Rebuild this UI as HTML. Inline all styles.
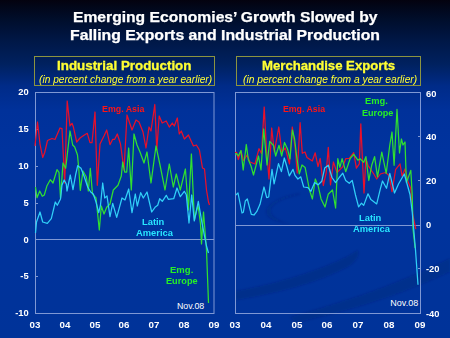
<!DOCTYPE html>
<html><head><meta charset="utf-8">
<style>
html,body{margin:0;padding:0;}
body{width:450px;height:338px;overflow:hidden;position:relative;font-family:"Liberation Sans",sans-serif;
background:linear-gradient(to bottom,#04020f 0px,#020618 6px,#000e2c 20px,#001848 42px,#00215f 64px,#002b88 86px,#00319a 110px,#00339e 150px,#003399 338px);}
.t{position:absolute;white-space:nowrap;line-height:1;transform-origin:0 0;}
svg{position:absolute;left:0;top:0;}
</style></head><body>
<svg width="450" height="338" viewBox="0 0 450 338">
<defs><filter id="bl" x="-20%" y="-20%" width="140%" height="140%"><feGaussianBlur stdDeviation="1.2"/></filter></defs><g filter="url(#bl)"><path d="M 236 291 C 280 283 320 270 348 256 C 353 253 356 251 358 250 C 360 256 356 262 346 268 C 318 282 280 293 236 300 Z" fill="#001a60" fill-opacity="0.25"/>
<path d="M 290 317 C 335 304 390 288 450 258 L 450 272 C 390 300 335 314 296 323 Z" fill="#001a60" fill-opacity="0.22"/>
<path d="M 300 193 C 280 196 266 204 266 212 C 266 218 274 222 290 224 C 278 220 271 216 271 211 C 271 204 284 198 300 195 Z" fill="#001a60" fill-opacity="0.18"/></g>
<rect x="34.5" y="56.5" width="180" height="29" fill="none" stroke="#8c9440" stroke-width="1"/>
<rect x="236.5" y="56.5" width="184" height="29" fill="none" stroke="#8c9440" stroke-width="1"/>
<rect x="35.5" y="92.5" width="178.5" height="221" fill="none" stroke="#7f98d4" stroke-width="1"/>
<rect x="235.5" y="92.5" width="185" height="221" fill="none" stroke="#7f98d4" stroke-width="1"/>
<line x1="35.5" y1="239.5" x2="214" y2="239.5" stroke="#7f98d4" stroke-width="1"/>
<line x1="235.5" y1="225.5" x2="420.5" y2="225.5" stroke="#7f98d4" stroke-width="1"/>
<line x1="35.5" y1="129.5" x2="38" y2="129.5" stroke="#7f98d4" stroke-width="1"/><line x1="35.5" y1="166.5" x2="38" y2="166.5" stroke="#7f98d4" stroke-width="1"/><line x1="35.5" y1="203.5" x2="38" y2="203.5" stroke="#7f98d4" stroke-width="1"/><line x1="35.5" y1="276.5" x2="38" y2="276.5" stroke="#7f98d4" stroke-width="1"/><line x1="418" y1="136.5" x2="420.5" y2="136.5" stroke="#7f98d4" stroke-width="1"/><line x1="418" y1="180.5" x2="420.5" y2="180.5" stroke="#7f98d4" stroke-width="1"/><line x1="418" y1="268.5" x2="420.5" y2="268.5" stroke="#7f98d4" stroke-width="1"/>
<g fill="none" stroke-width="1.25" stroke-linejoin="round">
<polyline points="35,146 37.5,122 40,144 42.7,157.5 44.7,152.5 47.5,140.5 52,138.5 55,139.5 60,128 62,128.7 64.7,183 67.2,101 70,126 72,123.3 73.3,126.7 76.7,142 80,138 84,135.3 87.3,133.3 90,142.7 92,142.7 95,112 97.3,185.3 100,144 104,136 106.7,130 110,144.7 112.7,139.3 114.7,139.3 117.3,134 120.5,144 124,170 127,115 132,130 136,120 139,122 143,132 146,148 149,127 151,131 154.8,104.5 156.8,150 159.2,116 162.2,123 166.2,121 169.3,127 172.3,123 174.3,126 177.3,118 179.3,134 181.3,131 184.4,139 188.4,135 193.4,146 196.4,145 199.4,150 202.5,168 204.5,169 206.5,190 208.5,202 209.5,205" stroke="#e8102a"/>
<polyline points="35.5,187 37,197.7 39.7,191 42.3,196.3 44.3,195 47,185.7 50.3,179.7 53,183 57,169.7 59,172.3 60.5,198 63,163 65.7,168.3 70,131 72.7,145 74.7,147 77.5,155 78.7,168 80.3,190.3 83,171 86.3,177 88.3,191 90.3,168.3 92.5,194 96,198 99.3,230 101.3,206 104,214 106.7,207.3 110,204 113.3,190 118,185.3 121.3,176 122.7,162 124.7,172 126.7,172 128.7,148 131.3,190 134,134 137,145 140,152 144,163 147,152 151,183 156,146 160,165 165,190 169.3,164 173.3,187 176.3,174 180.3,190 185.4,169 188.4,210 191.4,154 194.4,220 198,205 200.5,224 201.5,244 203.5,212 206.5,250 208.5,303" stroke="#30e030"/>
<polyline points="35.5,233 36.5,222 40,212 42.7,222 47.3,223.3 51.3,218.7 55.3,202 57.3,205.3 60.5,199 62,185 64.2,180 66.3,184 67,191 70.3,175 73,189.7 75.7,174.3 77.7,165.7 81,168.3 84,176 87.7,187 90.7,192 93.3,194 96,202 98.7,212.7 100.5,205 102.7,183 104.7,198 107,196 110,216.7 112.7,203.3 116.7,217.3 122,198 125,200 128.7,189 132,212.7 135.3,194 137.3,206 140.7,192.7 143.3,198 147,192 151.7,212 155,207.3 157.7,205.3 159.7,198.7 162.3,201.3 166.3,195.3 168.3,199.3 173.7,198.7 177,188 180.3,196.7 184.3,191.3 186.3,194.7 189,223 191.7,195 194.3,221 198.3,201.3 201.5,220 204.5,236 206.5,246 208.5,253" stroke="#30d0f8"/>
<polyline points="235,152.5 236.6,152.3 238.3,159.5 241,151 243.5,160.5 247,155 250,162 255,164 259,148.7 261.5,153.5 264.2,107 266.5,150 269,179 271.7,128 274.3,152 278.8,127 281.7,152 285.3,148 289.5,164 292.3,127 295.4,150 297.2,173 300.1,122.7 302.3,153.3 305,152 307,157.5 312.3,161 315.2,152.8 318,166.5 320.2,158.5 323.3,185.5 326.2,172.5 328.3,147.3 330.5,184.8 333.4,162 337,172.5 342.8,166.7 345.7,158.7 349.3,158.5 353.7,152.7 356.4,168.2 359.3,163.8 360.8,123.9 364,193 365.9,158.8 368,165.3 373.8,174 376.7,179 380.4,174 385.4,172.5 389.1,175.4 392,191.6 395.6,169.6 400,163.8 402.1,176.2 405,168.9 407.9,181.2 410.8,188.5 412.8,215 415.8,229.2" stroke="#e8102a"/>
<polyline points="235,154 236.6,153.7 238.3,156 241,150.5 243.2,170 246.3,144.5 248.3,159.5 251,166 253.5,175 258.5,156 261,170 263.7,129 267,165 269.7,141.3 273.5,145.5 275.7,156 279,145.3 281.7,156 284.5,142.5 287.6,149.3 290,159 292.4,130 294.6,139 296.4,154.3 299.3,173.9 302,165 305.1,167.4 309.5,190 312.4,199 315.3,179 318.2,186.2 321.1,199 325,207 328.2,194.3 332.5,190 335.6,208 337.8,158.7 339.9,167.4 342.1,158.7 345.7,171.7 350.1,158.7 353.7,154.3 357.9,160.2 360.1,158.8 363.7,162.4 365.9,156.6 368.8,180.5 371.7,165.3 374.6,156.6 377.5,176.9 381.8,152.2 386.2,173.3 389.8,145 392,132 394.1,165.3 397,109.4 399.5,153 401.4,139 403,145 405,142 406.4,182.7 410.8,170.4 412.2,194 413,229 415.1,248" stroke="#30e030"/>
<polyline points="235.8,195 238,193 242,213 243.3,212.3 245.3,201 247.3,199 251.3,214.3 254,215 256.7,211.7 260,204.3 264,187 266.7,197.7 268.7,197 272,169.4 274.1,183.9 278.5,163.6 281.4,171.6 284.3,158 287,167 289.3,175.9 293,169.4 295,175.4 297.9,179 300.8,176.8 303.7,187 308,187.7 310.9,191.3 314.6,182.6 318.2,184.8 321.8,181.2 324.7,168.1 328.3,165.2 332,177.5 335.6,182.6 339.2,177.5 342.8,173.2 345.7,180.4 349.3,183.3 352.2,180.4 355.5,195 358.6,206.8 361.5,203.2 363.7,205.4 368,193.8 370.9,199.6 376.7,203.9 380.4,188.7 382.5,181 386.5,188.3 389.8,173.3 394.5,193 398.5,184 404.3,174 410,194.5 412.2,211.9 413.7,229 415.5,250 418,284.8" stroke="#30d0f8"/>
</g>
</svg>
<div class="t" style="left:73px;top:9.8px;font-size:14px;color:#fff;font-weight:bold;font-style:normal;transform:scaleX(1.118);-webkit-text-stroke:0.25px #fff;">Emerging Economies’ Growth Slowed by</div>
<div class="t" style="left:70px;top:27.6px;font-size:14px;color:#fff;font-weight:bold;font-style:normal;transform:scaleX(1.129);-webkit-text-stroke:0.25px #fff;">Falling Exports and Industrial Production</div>
<div class="t" style="left:57px;top:59.6px;font-size:12.2px;color:#ffff33;font-weight:bold;font-style:normal;transform:scaleX(1.097);-webkit-text-stroke:0.3px #ffff33;">Industrial Production</div>
<div class="t" style="left:38.5px;top:75px;font-size:10px;color:#ffff33;font-weight:normal;font-style:italic;transform:scaleX(1.018);">(in percent change from a year earlier)</div>
<div class="t" style="left:262px;top:59.6px;font-size:12.2px;color:#ffff33;font-weight:bold;font-style:normal;transform:scaleX(1.08);-webkit-text-stroke:0.3px #ffff33;">Merchandise Exports</div>
<div class="t" style="left:243px;top:75px;font-size:10px;color:#ffff33;font-weight:normal;font-style:italic;transform:scaleX(1.024);">(in percent change from a year earlier)</div>
<div class="t" style="left:0px;top:88.3px;font-size:8.5px;color:#fff;font-weight:bold;font-style:normal;transform:scaleX(1.1);text-align:right;width:28.7px;transform-origin:28.7px 0;">20</div>
<div class="t" style="left:0px;top:124.75px;font-size:8.5px;color:#fff;font-weight:bold;font-style:normal;transform:scaleX(1.1);text-align:right;width:28.7px;transform-origin:28.7px 0;">15</div>
<div class="t" style="left:0px;top:161.9px;font-size:8.5px;color:#fff;font-weight:bold;font-style:normal;transform:scaleX(1.1);text-align:right;width:28.7px;transform-origin:28.7px 0;">10</div>
<div class="t" style="left:0px;top:198.7px;font-size:8.5px;color:#fff;font-weight:bold;font-style:normal;transform:scaleX(1.1);text-align:right;width:28.7px;transform-origin:28.7px 0;">5</div>
<div class="t" style="left:0px;top:235.5px;font-size:8.5px;color:#fff;font-weight:bold;font-style:normal;transform:scaleX(1.1);text-align:right;width:28.7px;transform-origin:28.7px 0;">0</div>
<div class="t" style="left:0px;top:272.3px;font-size:8.5px;color:#fff;font-weight:bold;font-style:normal;transform:scaleX(1.1);text-align:right;width:28.7px;transform-origin:28.7px 0;">-5</div>
<div class="t" style="left:0px;top:309.1px;font-size:8.5px;color:#fff;font-weight:bold;font-style:normal;transform:scaleX(1.1);text-align:right;width:28.7px;transform-origin:28.7px 0;">-10</div>
<div class="t" style="left:426.1px;top:89.5px;font-size:8.5px;color:#fff;font-weight:bold;font-style:normal;transform:scaleX(1.1);">60</div>
<div class="t" style="left:426.1px;top:133.3px;font-size:8.5px;color:#fff;font-weight:bold;font-style:normal;transform:scaleX(1.1);">40</div>
<div class="t" style="left:426.1px;top:177.1px;font-size:8.5px;color:#fff;font-weight:bold;font-style:normal;transform:scaleX(1.1);">20</div>
<div class="t" style="left:426.1px;top:221.0px;font-size:8.5px;color:#fff;font-weight:bold;font-style:normal;transform:scaleX(1.1);">0</div>
<div class="t" style="left:426.1px;top:264.8px;font-size:8.5px;color:#fff;font-weight:bold;font-style:normal;transform:scaleX(1.1);">-20</div>
<div class="t" style="left:426.1px;top:309.5px;font-size:8.5px;color:#fff;font-weight:bold;font-style:normal;transform:scaleX(1.1);">-40</div>
<div class="t" style="left:20.0px;top:321.2px;font-size:8.5px;color:#fff;font-weight:bold;font-style:normal;transform:scaleX(1.15);text-align:center;width:30px;transform-origin:15px 0;">03</div>
<div class="t" style="left:49.8px;top:321.2px;font-size:8.5px;color:#fff;font-weight:bold;font-style:normal;transform:scaleX(1.15);text-align:center;width:30px;transform-origin:15px 0;">04</div>
<div class="t" style="left:79.5px;top:321.2px;font-size:8.5px;color:#fff;font-weight:bold;font-style:normal;transform:scaleX(1.15);text-align:center;width:30px;transform-origin:15px 0;">05</div>
<div class="t" style="left:109.3px;top:321.2px;font-size:8.5px;color:#fff;font-weight:bold;font-style:normal;transform:scaleX(1.15);text-align:center;width:30px;transform-origin:15px 0;">06</div>
<div class="t" style="left:139.1px;top:321.2px;font-size:8.5px;color:#fff;font-weight:bold;font-style:normal;transform:scaleX(1.15);text-align:center;width:30px;transform-origin:15px 0;">07</div>
<div class="t" style="left:168.8px;top:321.2px;font-size:8.5px;color:#fff;font-weight:bold;font-style:normal;transform:scaleX(1.15);text-align:center;width:30px;transform-origin:15px 0;">08</div>
<div class="t" style="left:198.6px;top:321.2px;font-size:8.5px;color:#fff;font-weight:bold;font-style:normal;transform:scaleX(1.15);text-align:center;width:30px;transform-origin:15px 0;">09</div>
<div class="t" style="left:220.1px;top:321.2px;font-size:8.5px;color:#fff;font-weight:bold;font-style:normal;transform:scaleX(1.15);text-align:center;width:30px;transform-origin:15px 0;">03</div>
<div class="t" style="left:250.9px;top:321.2px;font-size:8.5px;color:#fff;font-weight:bold;font-style:normal;transform:scaleX(1.15);text-align:center;width:30px;transform-origin:15px 0;">04</div>
<div class="t" style="left:281.6px;top:321.2px;font-size:8.5px;color:#fff;font-weight:bold;font-style:normal;transform:scaleX(1.15);text-align:center;width:30px;transform-origin:15px 0;">05</div>
<div class="t" style="left:312.4px;top:321.2px;font-size:8.5px;color:#fff;font-weight:bold;font-style:normal;transform:scaleX(1.15);text-align:center;width:30px;transform-origin:15px 0;">06</div>
<div class="t" style="left:343.2px;top:321.2px;font-size:8.5px;color:#fff;font-weight:bold;font-style:normal;transform:scaleX(1.15);text-align:center;width:30px;transform-origin:15px 0;">07</div>
<div class="t" style="left:373.9px;top:321.2px;font-size:8.5px;color:#fff;font-weight:bold;font-style:normal;transform:scaleX(1.15);text-align:center;width:30px;transform-origin:15px 0;">08</div>
<div class="t" style="left:404.7px;top:321.2px;font-size:8.5px;color:#fff;font-weight:bold;font-style:normal;transform:scaleX(1.15);text-align:center;width:30px;transform-origin:15px 0;">09</div>
<div class="t" style="left:102.2px;top:105.3px;font-size:8.5px;color:#ff1414;font-weight:bold;font-style:normal;transform:scaleX(1.04);">Emg. Asia</div>
<div class="t" style="left:282.7px;top:105.3px;font-size:8.5px;color:#ff1414;font-weight:bold;font-style:normal;transform:scaleX(1.03);">Emg. Asia</div>
<div class="t" style="left:141.5px;top:218px;font-size:8.5px;color:#28e6ff;font-weight:bold;font-style:normal;transform:scaleX(1.1);">Latin</div>
<div class="t" style="left:136px;top:229px;font-size:8.5px;color:#28e6ff;font-weight:bold;font-style:normal;transform:scaleX(1.1);">America</div>
<div class="t" style="left:359.2px;top:214.2px;font-size:8.5px;color:#28e6ff;font-weight:bold;font-style:normal;transform:scaleX(1.1);">Latin</div>
<div class="t" style="left:353.1px;top:225.2px;font-size:8.5px;color:#28e6ff;font-weight:bold;font-style:normal;transform:scaleX(1.1);">America</div>
<div class="t" style="left:169.8px;top:266px;font-size:8.5px;color:#26f026;font-weight:bold;font-style:normal;transform:scaleX(1.12);">Emg.</div>
<div class="t" style="left:166.2px;top:276.5px;font-size:8.5px;color:#26f026;font-weight:bold;font-style:normal;transform:scaleX(1.08);">Europe</div>
<div class="t" style="left:364.8px;top:97.3px;font-size:8.5px;color:#26f026;font-weight:bold;font-style:normal;transform:scaleX(1.1);">Emg.</div>
<div class="t" style="left:361.5px;top:108.5px;font-size:8.5px;color:#26f026;font-weight:bold;font-style:normal;transform:scaleX(1.07);">Europe</div>
<div class="t" style="left:177px;top:302.3px;font-size:8.8px;color:#fff;font-weight:normal;font-style:normal;">Nov.08</div>
<div class="t" style="left:390.3px;top:298.5px;font-size:9px;color:#fff;font-weight:normal;font-style:normal;">Nov.08</div>
</body></html>
